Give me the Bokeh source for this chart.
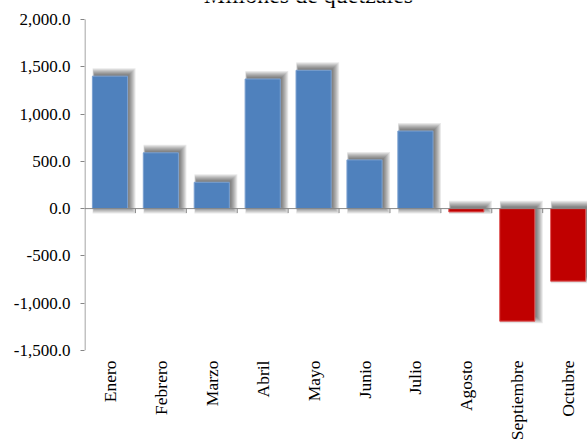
import math
import numpy as np
from bokeh.plotting import figure
from bokeh.models import (Range1d, FixedTicker, NumeralTickFormatter, Span)
from bokeh.core.properties import value
from bokeh.embed import file_html
from bokeh.resources import INLINE

# ---- data ----
months = ["Enero", "Febrero", "Marzo", "Abril", "Mayo", "Junio", "Julio",
          "Agosto", "Septiembre", "Octubre"]
values = [1400.0, 590.0, 278.0, 1370.0, 1462.0, 515.0, 820.0, -35.0, -1190.0, -767.0]
y_ticks = [-1500, -1000, -500, 0, 500, 1000, 1500, 2000]
title_text = "Millones de quetzales"

BLUE = "#4F81BD"
RED = "#C00000"
AXIS = "#868686"
FONT = "'Liberation Serif', 'Times New Roman', serif"

vals = np.array(values)
centers = np.arange(len(months)) + 0.5
BAR_W = 0.69

W, H = 587, 443
XEND = 9.88
YTOP = 2200.0          # frame reaches the top of the canvas (2000 sits ~19px below)
p = figure(width=W, height=H, output_backend="svg", toolbar_location=None,
           x_range=Range1d(0, XEND), y_range=Range1d(-1500, YTOP),
           min_border_left=84, min_border_right=0, min_border_top=0,
           min_border_bottom=91)
p.outline_line_color = None
p.xgrid.visible = False
p.ygrid.visible = False
p.background_fill_color = "white"

# pixel sizes in data units (frame approx 503 x 352 px)
pxx = XEND / 503.0
pxy = (YTOP + 1500.0) / 352.0

# soft shadow layers (offset right/up, blurred mostly to the right and top)
stop = np.maximum(vals, 0) + 3 * pxy
sbot = np.where(vals < 0, vals + 3 * pxy, 0.0)
for k in range(7):
    left = centers - BAR_W / 2 + (2.0 - 0.3 * k) * pxx
    right = centers + BAR_W / 2 + (2.0 + k) * pxx
    p.vbar(x=(left + right) / 2, width=right[0] - left[0],
           top=stop + (k - 1) * pxy, bottom=sbot - (k - 1) * pxy,
           fill_color="black", fill_alpha=0.085, line_color=None)

colors = [BLUE if v >= 0 else RED for v in values]
edge = ["#7BA0D0" if v >= 0 else "#E05A5A" for v in values]
p.vbar(x=centers, width=BAR_W, top=vals, bottom=0, fill_color=colors,
       line_color=edge, line_width=1)

# zero line with category tick marks
p.add_layout(Span(location=0, dimension="width", line_color=AXIS, line_width=1))
tick_x = np.arange(1, len(months))
p.segment(x0=tick_x, y0=np.zeros(len(tick_x)), x1=tick_x,
          y1=np.full(len(tick_x), -4.5 * pxy), line_color=AXIS, line_width=1)

# value axis line only between the first and last tick
p.segment(x0=[0.5 * pxx], y0=[min(y_ticks)], x1=[0.5 * pxx], y1=[max(y_ticks)],
          line_color=AXIS, line_width=1)

# y axis
p.yaxis.ticker = FixedTicker(ticks=y_ticks)
p.yaxis.formatter = NumeralTickFormatter(format="0,0.0")
p.yaxis.axis_line_color = None
p.yaxis.major_tick_line_color = AXIS
p.yaxis.major_tick_out = 4
p.yaxis.major_tick_in = 0
p.yaxis.minor_tick_line_color = None
p.yaxis.major_label_text_font = FONT
p.yaxis.major_label_text_font_size = "17px"
p.yaxis.major_label_text_color = "black"
p.yaxis.major_label_standoff = 10

# x axis (labels only, at the bottom)
p.xaxis.ticker = FixedTicker(ticks=list(centers))
p.xaxis.major_label_overrides = {float(c): m for c, m in zip(centers, months)}
p.xaxis.major_label_orientation = math.pi / 2
p.xaxis.axis_line_color = None
p.xaxis.major_tick_line_color = None
p.xaxis.minor_tick_line_color = None
p.xaxis.major_tick_out = 0
p.xaxis.major_tick_in = 0
p.xaxis.major_label_text_font = FONT
p.xaxis.major_label_text_font_size = "17.5px"
p.xaxis.major_label_text_color = "black"
p.xaxis.major_label_standoff = 10

# title (mostly above the visible area, as in the reference)
p.text(x=[4.4], y=[2000 + 11 * pxy], text=[title_text], text_align="center",
       text_baseline="bottom", text_font=value(FONT), text_font_size="24px",
       text_color="black")

open("out.html", "w").write(file_html(p, INLINE))
